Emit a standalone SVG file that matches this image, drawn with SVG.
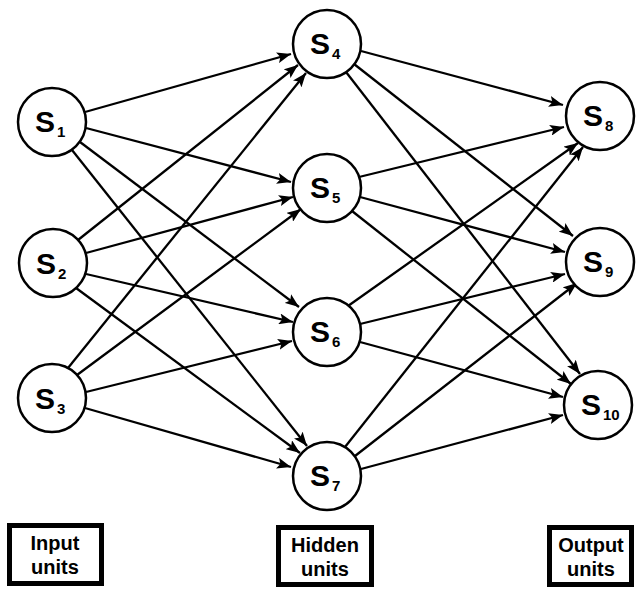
<svg xmlns="http://www.w3.org/2000/svg" width="637" height="589" viewBox="0 0 637 589">
  <style>
    .node circle { fill: #fff; stroke: #000; stroke-width: 2.5; }
    .lbl { font-family: "Liberation Sans", Arial, sans-serif; font-weight: bold; font-size: 30px; fill: #000; }
    .sub { font-size: 15px; }
    .edges line { stroke: #000; stroke-width: 2.3; marker-end: url(#arrow); }
    .legend rect { fill: #fff; stroke: #000; stroke-width: 5; }
    .legend text { font-family: "Liberation Sans", Arial, sans-serif; font-weight: bold; font-size: 20px; text-anchor: middle; fill: #000; }
  </style>
  <defs>
    <marker id="arrow" markerUnits="userSpaceOnUse" markerWidth="15" markerHeight="11" refX="14" refY="5.5" orient="auto">
      <path d="M0,0 L14,5.5 L0,11 L3,5.5 Z" fill="#000"/>
    </marker>
  </defs>

  <rect width="637" height="589" fill="#fff"/>

  <!-- connectors: input -> hidden, hidden -> output -->
  <g id="connectors" class="edges">
    <!-- from S1 (52,122) -->
    <line x1="85" y1="112" x2="291" y2="54"/>
    <line x1="86" y1="128" x2="291" y2="182"/>
    <line x1="80" y1="142" x2="299" y2="307"/>
    <line x1="72" y1="150" x2="307" y2="446"/>
    <!-- from S2 (53,263) -->
    <line x1="78" y1="240" x2="298" y2="65"/>
    <line x1="86" y1="253" x2="293" y2="197"/>
    <line x1="86" y1="274" x2="293" y2="322"/>
    <line x1="76" y1="288" x2="300" y2="453"/>
    <!-- from S3 (52,398) -->
    <line x1="68" y1="368" x2="306" y2="73"/>
    <line x1="77" y1="375" x2="301" y2="209"/>
    <line x1="86" y1="392" x2="292" y2="341"/>
    <line x1="85" y1="408" x2="291" y2="467"/>

    <!-- from S4 (327,44) -->
    <line x1="361" y1="51" x2="563" y2="105"/>
    <line x1="354" y1="64" x2="573" y2="236"/>
    <line x1="346" y1="72" x2="580" y2="374"/>
    <!-- from S5 (327,188) -->
    <line x1="359" y1="177" x2="564" y2="127"/>
    <line x1="360" y1="197" x2="565" y2="252"/>
    <line x1="352" y1="211" x2="571" y2="384"/>
    <!-- from S6 (327,332) -->
    <line x1="348" y1="306" x2="578" y2="143"/>
    <line x1="360" y1="324" x2="565" y2="274"/>
    <line x1="360" y1="342" x2="563" y2="397"/>
    <!-- from S7 (327,476) -->
    <line x1="345" y1="447" x2="583" y2="147"/>
    <line x1="355" y1="456" x2="577" y2="283"/>
    <line x1="361" y1="469" x2="563" y2="415"/>
  </g>

  <!-- input layer -->
  <g id="s1" class="node">
    <circle cx="52" cy="122" r="34"/>
    <text class="lbl" x="35" y="132">S<tspan class="sub" dx="2" dy="5">1</tspan></text>
  </g>
  <g id="s2" class="node">
    <circle cx="53" cy="263" r="34"/>
    <text class="lbl" x="36" y="274">S<tspan class="sub" dx="2" dy="5">2</tspan></text>
  </g>
  <g id="s3" class="node">
    <circle cx="52" cy="398" r="34"/>
    <text class="lbl" x="35" y="409">S<tspan class="sub" dx="2" dy="5">3</tspan></text>
  </g>

  <!-- hidden layer -->
  <g id="s4" class="node">
    <circle cx="327" cy="44" r="34"/>
    <text class="lbl" x="310" y="54">S<tspan class="sub" dx="2" dy="5">4</tspan></text>
  </g>
  <g id="s5" class="node">
    <circle cx="327" cy="188" r="34"/>
    <text class="lbl" x="310" y="198">S<tspan class="sub" dx="2" dy="5">5</tspan></text>
  </g>
  <g id="s6" class="node">
    <circle cx="327" cy="332" r="34"/>
    <text class="lbl" x="310" y="342">S<tspan class="sub" dx="2" dy="5">6</tspan></text>
  </g>
  <g id="s7" class="node">
    <circle cx="327" cy="476" r="34"/>
    <text class="lbl" x="310" y="486">S<tspan class="sub" dx="2" dy="5">7</tspan></text>
  </g>

  <!-- output layer -->
  <g id="s8" class="node">
    <circle cx="600" cy="116" r="34"/>
    <text class="lbl" x="583" y="126">S<tspan class="sub" dx="2" dy="5">8</tspan></text>
  </g>
  <g id="s9" class="node">
    <circle cx="600" cy="262" r="34"/>
    <text class="lbl" x="583" y="272">S<tspan class="sub" dx="2" dy="5">9</tspan></text>
  </g>
  <g id="s10" class="node">
    <circle cx="598" cy="405" r="34"/>
    <text class="lbl" x="581" y="415">S<tspan class="sub" dx="2" dy="5">10</tspan></text>
  </g>

  <!-- layer captions -->
  <g id="input-units" class="legend">
    <rect x="9.5" y="525.5" width="92" height="58"/>
    <text x="55" y="550">Input</text>
    <text x="55" y="574">units</text>
  </g>
  <g id="hidden-units" class="legend">
    <rect x="278.5" y="527.5" width="93" height="57"/>
    <text x="325" y="552">Hidden</text>
    <text x="325" y="576">units</text>
  </g>
  <g id="output-units" class="legend">
    <rect x="549.5" y="527.5" width="82" height="57"/>
    <text x="591" y="552">Output</text>
    <text x="591" y="576">units</text>
  </g>
</svg>
